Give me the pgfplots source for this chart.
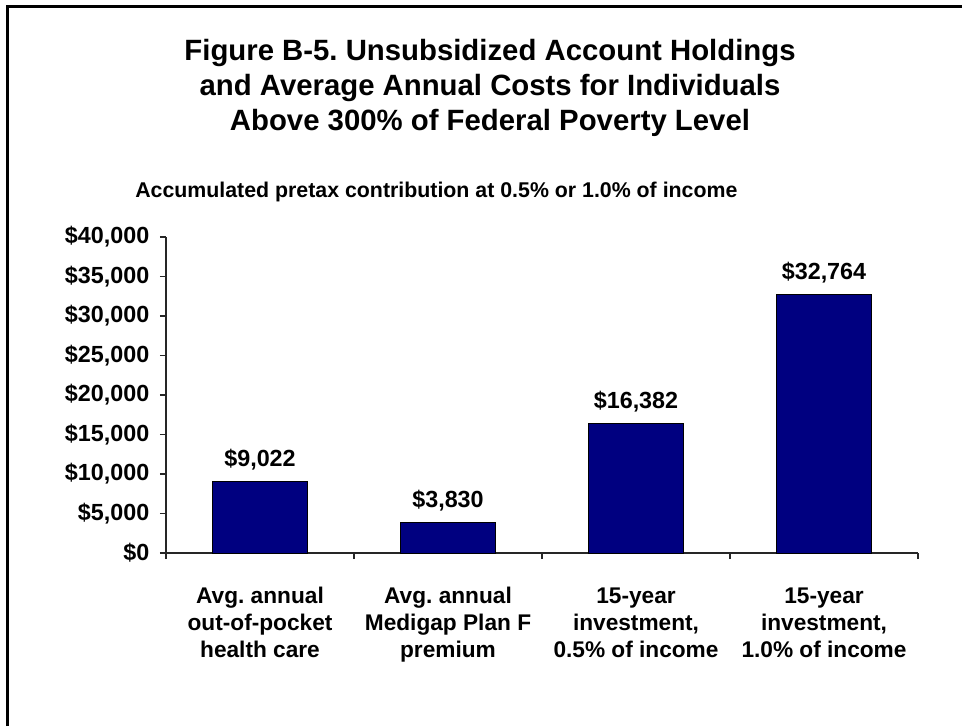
\documentclass[border=0pt]{standalone}
\usepackage{pgfplots}
\pgfplotsset{compat=1.18}
\usepackage{fontspec}
\setmainfont{Liberation Sans}
\definecolor{barnavy}{HTML}{000080}
\begin{document}
\frenchspacing
\begin{tikzpicture}
\useasboundingbox (0,0) rectangle (721.5pt,-544.5pt);
% frame (top and left only)
\draw[line width=2.25pt] (5.25pt,-544.5pt) -- (5.25pt,-4.5pt) -- (721.5pt,-4.5pt);
% title
\node[anchor=base,font=\fontsize{22}{26}\selectfont\bfseries] at (367.5pt,-45.4pt) {Figure B-5. Unsubsidized Account Holdings};
\node[anchor=base,font=\fontsize{22}{26}\selectfont\bfseries] at (367.5pt,-71.6pt) {and Average Annual Costs for Individuals};
\node[anchor=base,font=\fontsize{22}{26}\selectfont\bfseries] at (367.5pt,-97.9pt) {Above 300\% of Federal Poverty Level};
% subtitle
\node[anchor=base west,inner sep=0pt,font=\fontsize{16}{19}\selectfont\bfseries] at (101.25pt,-148pt) {Accumulated pretax contribution at 0.5\% or 1.0\% of income};
\begin{axis}[
  at={(124.5pt,-414.75pt)}, anchor=south west,
  width=564pt, height=237pt, scale only axis,
  axis lines=left, axis line style={-, line width=0.8pt, black!85},
  xmin=-0.5, xmax=3.5, ymin=0, ymax=40000,
  scaled y ticks=false,
  ytick={0,5000,10000,15000,20000,25000,30000,35000,40000},
  yticklabels={{\$0},{\$5,000},{\$10,000},{\$15,000},{\$20,000},{\$25,000},{\$30,000},{\$35,000},{\$40,000}},
  xtick={0,1,2,3},
  xticklabels={{\strut Avg. annual\\out-of-pocket\\health care\strut},{\strut Avg. annual\\Medigap Plan F\\premium\strut},{\strut 15-year\\investment,\\0.5\% of income\strut},{\strut 15-year\\investment,\\1.0\% of income\strut}},
  minor xtick={-0.5,0.5,1.5,2.5,3.5},
  tick align=outside,
  major tick length=4.5pt,
  minor tick length=4.5pt,
  tick style={line width=0.8pt, black!85},
  major x tick style={draw=none},
  yticklabel style={font=\fontsize{17.5}{21}\selectfont\bfseries, xshift=-4.5pt},
  xticklabel style={font=\fontsize{17}{20.25}\selectfont\bfseries, align=center, yshift=-16pt},
  ybar, bar width=71pt,
  bar shift=0pt,
  point meta=explicit symbolic,
  nodes near coords,
  every node near coord/.append style={font=\fontsize{17.5}{21}\selectfont\bfseries, anchor=base, inner sep=0pt, yshift=11.25pt},
  clip=false,
]
\addplot[fill=barnavy, draw=black, line width=0.6pt] coordinates {
  (0,9022) [\$9,022]
  (1,3830) [\$3,830]
  (2,16382) [\$16,382]
  (3,32764) [\$32,764]
};
\end{axis}
\end{tikzpicture}
\end{document}
